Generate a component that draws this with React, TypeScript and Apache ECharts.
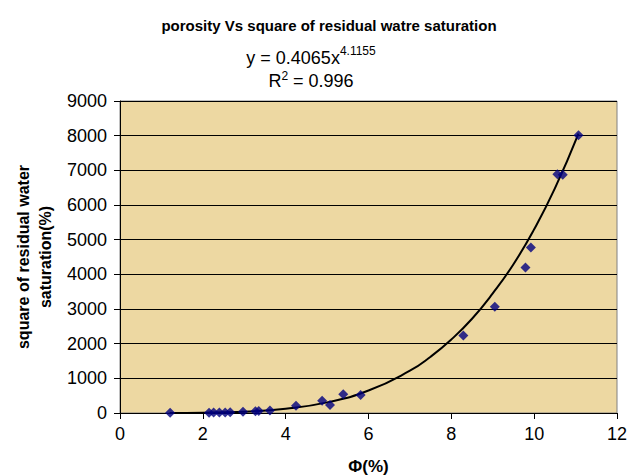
import React, { useEffect, useRef } from "react";
import * as echarts from "echarts";

const porosity = [1.21, 2.15, 2.26, 2.4, 2.54, 2.66, 2.97, 3.27, 3.35, 3.62, 4.25, 4.88, 5.07, 5.39, 5.81, 8.29, 9.05, 9.79, 9.92, 10.56, 10.69, 11.07];
const swSquared = [5, 10, 12, 15, 18, 22, 35, 50, 60, 75, 210, 350, 230, 540, 520, 2232, 3064, 4194, 4774, 6890, 6870, 8010];

const trendX = [1.2, 2, 3, 4, 5, 6, 7, 7.5, 8, 8.5, 9, 9.5, 10, 10.5, 11.07];
const trendY = [0, 7, 37, 122, 307, 648, 1220, 1624, 2120, 2719, 3450, 4291, 5300, 6478, 8060];

const yTicks = [0, 1000, 2000, 3000, 4000, 5000, 6000, 7000, 8000, 9000];
const xTicks = [0, 2, 4, 6, 8, 10, 12];

const FONT = "'Liberation Sans', Arial, sans-serif";

export default function App() {
  const ref = useRef<HTMLDivElement>(null);
  useEffect(() => {
    if (!ref.current) return;
    const chart = echarts.init(ref.current, null, { renderer: "svg" });
    chart.setOption({
      animation: false,
      backgroundColor: "#ffffff",
      textStyle: { fontFamily: FONT },
      grid: {
        left: 120,
        top: 101,
        right: 12,
        bottom: 63,
        containLabel: false,
        outerBoundsMode: "none",
        show: true,
        backgroundColor: "#EDD8A2",
        borderColor: "#808080",
        borderWidth: 1,
      },
      title: [
        {
          text: "porosity Vs square of residual watre saturation",
          left: 324,
          top: 13,
          textAlign: "center",
          textStyle: { fontFamily: FONT, fontSize: 15, fontWeight: "bold", color: "#000" },
        },
      ],
      graphic: [
        {
          type: "text",
          x: 311,
          y: 56,
          style: {
            text: "{a|y = 0.4065x}{b|4.1155}",
            rich: {
              a: { fontFamily: FONT, fontSize: 18, color: "#000", verticalAlign: "bottom" },
              b: { fontFamily: FONT, fontSize: 12, color: "#000", verticalAlign: "top", padding: [0, 0, 10, 0] },
            },
            align: "center",
            verticalAlign: "middle",
          },
        },
        {
          type: "text",
          x: 311,
          y: 81,
          style: {
            text: "{a|R}{b|2}{a| = 0.996}",
            rich: {
              a: { fontFamily: FONT, fontSize: 18, color: "#000" },
              b: { fontFamily: FONT, fontSize: 12, color: "#000", padding: [0, 0, 10, 0] },
            },
            align: "center",
            verticalAlign: "middle",
          },
        },
      ],
      xAxis: {
        type: "value",
        min: xTicks[0],
        max: xTicks[xTicks.length - 1],
        interval: 2,
        name: "Φ(%)",
        nameLocation: "middle",
        nameGap: 45,
        nameTextStyle: { fontFamily: FONT, fontSize: 17, fontWeight: "bold", color: "#000" },
        axisLine: { onZero: false, lineStyle: { color: "#000", width: 1 } },
        axisTick: { show: true, inside: false, length: 6, lineStyle: { color: "#000" } },
        axisLabel: { fontFamily: FONT, fontSize: 18, color: "#000", margin: 12 },
        splitLine: { show: false },
      },
      yAxis: {
        type: "value",
        min: yTicks[0],
        max: yTicks[yTicks.length - 1],
        interval: 1000,
        name: "square of residual water\nsaturation(%)",
        nameLocation: "middle",
        nameGap: 58,
        nameRotate: 90,
        nameTextStyle: { fontFamily: FONT, fontSize: 16, fontWeight: "bold", color: "#000", lineHeight: 22, align: "center" },
        axisLine: { show: true, lineStyle: { color: "#000", width: 1 } },
        axisTick: { show: true, inside: false, length: 6, lineStyle: { color: "#000" } },
        axisLabel: { fontFamily: FONT, fontSize: 18, color: "#000", margin: 13, formatter: (v: number) => String(v) },
        splitLine: { show: true, lineStyle: { color: "#000", width: 1 } },
      },
      series: [
        {
          type: "line",
          data: trendX.map((x, i) => [x, trendY[i]]),
          smooth: true,
          showSymbol: false,
          symbol: "none",
          lineStyle: { color: "#000", width: 2 },
          z: 2,
        },
        {
          type: "scatter",
          data: porosity.map((x, i) => [x, swSquared[i]]),
          symbol: "diamond",
          symbolSize: 10,
          itemStyle: { color: "#000080" },
          z: 3,
        },
      ],
    });
    return () => chart.dispose();
  }, []);
  return <div ref={ref} style={{ width: 629, height: 476, position: "absolute", left: 0, top: 0 }} />;
}
